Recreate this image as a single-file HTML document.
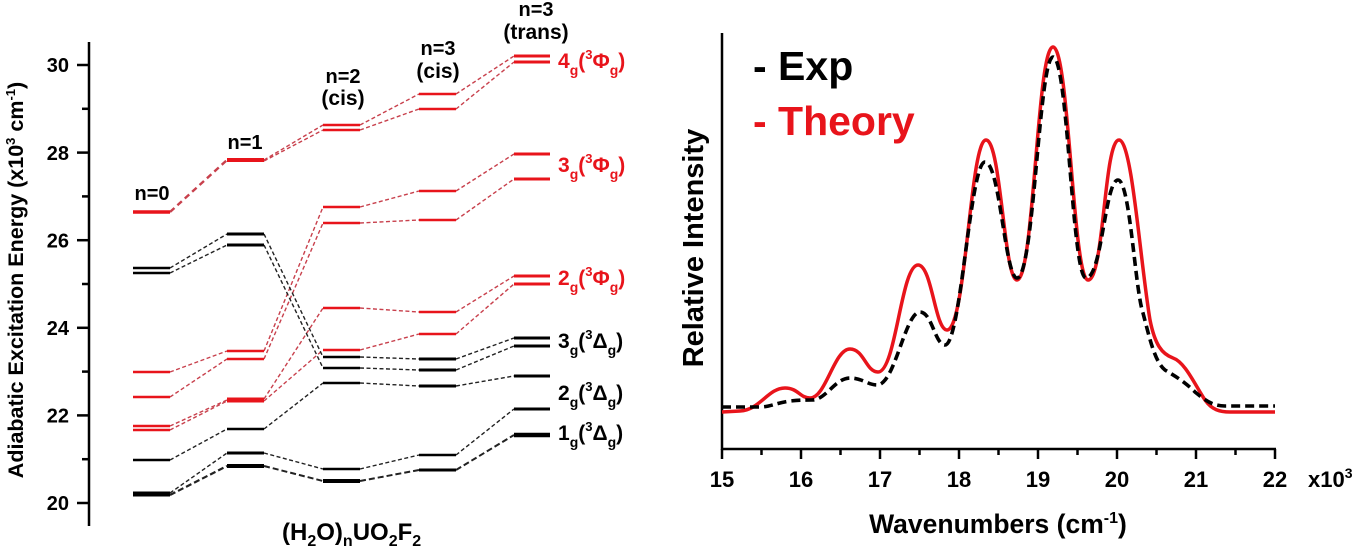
<!DOCTYPE html>
<html><head><meta charset="utf-8"><style>
html,body{margin:0;padding:0;background:#fff;}
svg{display:block;}
text{font-family:"Liberation Sans",Arial,sans-serif;font-weight:bold;}
</style></head><body>
<svg width="1370" height="551" viewBox="0 0 1370 551" xmlns="http://www.w3.org/2000/svg">
<rect width="1370" height="551" fill="#fff"/>

<!-- LEFT PANEL AXIS -->
<g stroke="#000" stroke-width="2.5" fill="none">
<line x1="89" y1="42" x2="89" y2="526"/>
<line x1="77" y1="503" x2="89" y2="503"/>
<line x1="77" y1="415.4" x2="89" y2="415.4"/>
<line x1="77" y1="327.8" x2="89" y2="327.8"/>
<line x1="77" y1="240.2" x2="89" y2="240.2"/>
<line x1="77" y1="152.6" x2="89" y2="152.6"/>
<line x1="77" y1="65" x2="89" y2="65"/>
<line x1="82" y1="459.2" x2="89" y2="459.2"/>
<line x1="82" y1="371.6" x2="89" y2="371.6"/>
<line x1="82" y1="284" x2="89" y2="284"/>
<line x1="82" y1="196.4" x2="89" y2="196.4"/>
<line x1="82" y1="108.8" x2="89" y2="108.8"/>
</g>
<g font-size="20" text-anchor="end" fill="#000">
<text x="69" y="510">20</text>
<text x="69" y="422.5">22</text>
<text x="69" y="335">24</text>
<text x="69" y="247.5">26</text>
<text x="69" y="160">28</text>
<text x="69" y="72">30</text>
</g>
<text transform="translate(23,280) rotate(-90)" text-anchor="middle" font-size="21.5" fill="#000">Adiabatic Excitation Energy (x10<tspan font-size="13" dy="-8">3</tspan><tspan dy="8"> cm</tspan><tspan font-size="13" dy="-8">-1</tspan><tspan dy="8">)</tspan></text>

<!-- column headers -->
<g font-size="20" text-anchor="middle" fill="#000">
<text x="152" y="200">n=0</text>
<text x="245" y="149">n=1</text>
<text x="343" y="83">n=2</text>
<text x="343" y="105" font-size="21">(cis)</text>
<text x="438" y="55">n=3</text>
<text x="438" y="78" font-size="21">(cis)</text>
<text x="536" y="16">n=3</text>
<text x="536" y="39" font-size="21">(trans)</text>
</g>

<!-- connectors -->
<g fill="none" stroke="#c8404c" stroke-width="1.4" stroke-dasharray="4 2.5">
<line x1="170" y1="212" x2="227" y2="160" stroke-width="2.4" stroke-dasharray="6 4"/>
<line x1="170" y1="372" x2="227" y2="351"/>
<line x1="170" y1="397" x2="227" y2="359"/>
<line x1="170" y1="426" x2="227" y2="400"/>
<line x1="170" y1="430" x2="227" y2="401"/>
<line x1="264" y1="160" x2="323" y2="125"/>
<line x1="264" y1="161" x2="323" y2="130"/>
<line x1="264" y1="351" x2="323" y2="207"/>
<line x1="264" y1="359" x2="323" y2="223"/>
<line x1="264" y1="399" x2="323" y2="308"/>
<line x1="264" y1="401" x2="323" y2="350"/>
<line x1="360" y1="125" x2="419" y2="94"/>
<line x1="360" y1="130" x2="419" y2="109"/>
<line x1="360" y1="207" x2="419" y2="191"/>
<line x1="360" y1="223" x2="419" y2="220"/>
<line x1="360" y1="308" x2="419" y2="312"/>
<line x1="360" y1="350" x2="419" y2="334"/>
<line x1="456" y1="94" x2="514" y2="56"/>
<line x1="456" y1="109" x2="514" y2="62"/>
<line x1="456" y1="191" x2="514" y2="154"/>
<line x1="456" y1="220" x2="514" y2="179"/>
<line x1="456" y1="312" x2="514" y2="276"/>
<line x1="456" y1="334" x2="514" y2="284"/>
</g>
<g fill="none" stroke="#222" stroke-width="1.4" stroke-dasharray="4 2.5">
<line x1="170" y1="268" x2="227" y2="234"/>
<line x1="170" y1="273" x2="227" y2="245"/>
<line x1="170" y1="460" x2="227" y2="429"/>
<line x1="170" y1="493" x2="227" y2="453"/>
<line x1="170" y1="495" x2="227" y2="466" stroke-width="2.2" stroke-dasharray="6 3"/>
<line x1="264" y1="234" x2="323" y2="357"/>
<line x1="264" y1="245" x2="323" y2="368"/>
<line x1="264" y1="429" x2="323" y2="383"/>
<line x1="264" y1="453" x2="323" y2="469"/>
<line x1="264" y1="466" x2="323" y2="481" stroke-width="2" stroke-dasharray="6 3"/>
<line x1="360" y1="357" x2="419" y2="359"/>
<line x1="360" y1="368" x2="419" y2="370"/>
<line x1="360" y1="383" x2="419" y2="386"/>
<line x1="360" y1="469" x2="419" y2="455"/>
<line x1="360" y1="481" x2="419" y2="470" stroke-width="2" stroke-dasharray="6 3"/>
<line x1="456" y1="359" x2="514" y2="338"/>
<line x1="456" y1="370" x2="514" y2="346"/>
<line x1="456" y1="386" x2="514" y2="376"/>
<line x1="456" y1="455" x2="514" y2="409"/>
<line x1="456" y1="470" x2="514" y2="435" stroke-width="2" stroke-dasharray="6 3"/>
</g>

<!-- levels red -->
<g stroke="#e8141b" stroke-width="2.6" fill="none">
<line x1="133" y1="212" x2="170" y2="212" stroke-width="3.6"/>
<line x1="133" y1="372" x2="170" y2="372"/>
<line x1="133" y1="397" x2="170" y2="397"/>
<line x1="133" y1="426" x2="170" y2="426"/>
<line x1="133" y1="430" x2="170" y2="430"/>
<line x1="227" y1="160" x2="264" y2="160" stroke-width="4"/>
<line x1="227" y1="351" x2="264" y2="351"/>
<line x1="227" y1="359" x2="264" y2="359"/>
<line x1="227" y1="400" x2="264" y2="400" stroke-width="5"/>
<line x1="323" y1="125" x2="360" y2="125"/>
<line x1="323" y1="130" x2="360" y2="130"/>
<line x1="323" y1="207" x2="360" y2="207"/>
<line x1="323" y1="223" x2="360" y2="223"/>
<line x1="323" y1="308" x2="360" y2="308"/>
<line x1="323" y1="350" x2="360" y2="350"/>
<line x1="419" y1="94" x2="456" y2="94"/>
<line x1="419" y1="109" x2="456" y2="109"/>
<line x1="419" y1="191" x2="456" y2="191"/>
<line x1="419" y1="220" x2="456" y2="220"/>
<line x1="419" y1="312" x2="456" y2="312"/>
<line x1="419" y1="334" x2="456" y2="334"/>
<line x1="514" y1="56" x2="550" y2="56" stroke-width="3"/>
<line x1="514" y1="62" x2="550" y2="62" stroke-width="3"/>
<line x1="514" y1="154" x2="550" y2="154" stroke-width="3"/>
<line x1="514" y1="179" x2="550" y2="179" stroke-width="3"/>
<line x1="514" y1="276" x2="550" y2="276" stroke-width="3"/>
<line x1="514" y1="284" x2="550" y2="284" stroke-width="3"/>
</g>
<!-- levels black -->
<g stroke="#000" stroke-width="2.6" fill="none">
<line x1="133" y1="268" x2="170" y2="268"/>
<line x1="133" y1="273" x2="170" y2="273"/>
<line x1="133" y1="460" x2="170" y2="460"/>
<line x1="133" y1="494" x2="170" y2="494" stroke-width="5"/>
<line x1="227" y1="234" x2="264" y2="234" stroke-width="3"/>
<line x1="227" y1="245" x2="264" y2="245" stroke-width="3"/>
<line x1="227" y1="429" x2="264" y2="429"/>
<line x1="227" y1="453" x2="264" y2="453" stroke-width="3"/>
<line x1="227" y1="466" x2="264" y2="466" stroke-width="4"/>
<line x1="323" y1="357" x2="360" y2="357"/>
<line x1="323" y1="368" x2="360" y2="368"/>
<line x1="323" y1="383" x2="360" y2="383"/>
<line x1="323" y1="469" x2="360" y2="469"/>
<line x1="323" y1="481" x2="360" y2="481" stroke-width="4"/>
<line x1="419" y1="359" x2="456" y2="359" stroke-width="3"/>
<line x1="419" y1="370" x2="456" y2="370" stroke-width="3"/>
<line x1="419" y1="386" x2="456" y2="386" stroke-width="3"/>
<line x1="419" y1="455" x2="456" y2="455"/>
<line x1="419" y1="470" x2="456" y2="470" stroke-width="3"/>
<line x1="514" y1="338" x2="550" y2="338" stroke-width="3"/>
<line x1="514" y1="346" x2="550" y2="346" stroke-width="3"/>
<line x1="514" y1="376" x2="550" y2="376" stroke-width="3"/>
<line x1="514" y1="409" x2="550" y2="409" stroke-width="3"/>
<line x1="514" y1="435" x2="550" y2="435" stroke-width="4.5"/>
</g>

<!-- state labels -->
<g font-size="21">
<text x="558" y="68" fill="#e8141b">4<tspan font-size="14" dy="7">g</tspan><tspan dy="-7">(</tspan><tspan font-size="13" dy="-9">3</tspan><tspan dy="9">Φ</tspan><tspan font-size="14" dy="7">g</tspan><tspan dy="-7">)</tspan></text>
<text x="558" y="172" fill="#e8141b">3<tspan font-size="14" dy="7">g</tspan><tspan dy="-7">(</tspan><tspan font-size="13" dy="-9">3</tspan><tspan dy="9">Φ</tspan><tspan font-size="14" dy="7">g</tspan><tspan dy="-7">)</tspan></text>
<text x="558" y="285" fill="#e8141b">2<tspan font-size="14" dy="7">g</tspan><tspan dy="-7">(</tspan><tspan font-size="13" dy="-9">3</tspan><tspan dy="9">Φ</tspan><tspan font-size="14" dy="7">g</tspan><tspan dy="-7">)</tspan></text>
<text x="558" y="348" fill="#000">3<tspan font-size="14" dy="7">g</tspan><tspan dy="-7">(</tspan><tspan font-size="13" dy="-9">3</tspan><tspan dy="9">Δ</tspan><tspan font-size="14" dy="7">g</tspan><tspan dy="-7">)</tspan></text>
<text x="558" y="400" fill="#000">2<tspan font-size="14" dy="7">g</tspan><tspan dy="-7">(</tspan><tspan font-size="13" dy="-9">3</tspan><tspan dy="9">Δ</tspan><tspan font-size="14" dy="7">g</tspan><tspan dy="-7">)</tspan></text>
<text x="558" y="440" fill="#000">1<tspan font-size="14" dy="7">g</tspan><tspan dy="-7">(</tspan><tspan font-size="13" dy="-9">3</tspan><tspan dy="9">Δ</tspan><tspan font-size="14" dy="7">g</tspan><tspan dy="-7">)</tspan></text>
</g>

<text x="282" y="540" font-size="24" fill="#000">(H<tspan font-size="16" dy="6">2</tspan><tspan dy="-6">O)</tspan><tspan font-size="16" dy="6">n</tspan><tspan dy="-6">UO</tspan><tspan font-size="16" dy="6">2</tspan><tspan dy="-6">F</tspan><tspan font-size="16" dy="6">2</tspan></text>

<!-- RIGHT PANEL -->
<g stroke="#000" stroke-width="2.5" fill="none">
<line x1="722" y1="33" x2="722" y2="450"/>
<line x1="721" y1="449" x2="1276" y2="449"/>
<line x1="722" y1="449" x2="722" y2="459"/>
<line x1="801" y1="449" x2="801" y2="459"/>
<line x1="880" y1="449" x2="880" y2="459"/>
<line x1="959" y1="449" x2="959" y2="459"/>
<line x1="1038" y1="449" x2="1038" y2="459"/>
<line x1="1117" y1="449" x2="1117" y2="459"/>
<line x1="1196" y1="449" x2="1196" y2="459"/>
<line x1="1275" y1="449" x2="1275" y2="459"/>
<line x1="761.5" y1="449" x2="761.5" y2="455"/>
<line x1="840.5" y1="449" x2="840.5" y2="455"/>
<line x1="919.5" y1="449" x2="919.5" y2="455"/>
<line x1="998.5" y1="449" x2="998.5" y2="455"/>
<line x1="1077.5" y1="449" x2="1077.5" y2="455"/>
<line x1="1156.5" y1="449" x2="1156.5" y2="455"/>
<line x1="1235.5" y1="449" x2="1235.5" y2="455"/>
</g>
<g font-size="22" text-anchor="middle" fill="#000">
<text x="722" y="487">15</text>
<text x="801" y="487">16</text>
<text x="880" y="487">17</text>
<text x="959" y="487">18</text>
<text x="1038" y="487">19</text>
<text x="1117" y="487">20</text>
<text x="1196" y="487">21</text>
<text x="1275" y="487">22</text>
</g>
<text x="1308" y="487" font-size="22" fill="#000">x10<tspan font-size="14" dy="-9">3</tspan></text>
<text x="998" y="533" font-size="26.5" text-anchor="middle" fill="#000">Wavenumbers (cm<tspan font-size="16" dy="-10">-1</tspan><tspan dy="10">)</tspan></text>
<text transform="translate(703,248) rotate(-90)" font-size="29" text-anchor="middle" fill="#000">Relative Intensity</text>

<text x="753" y="80" font-size="41" fill="#000">- Exp</text>
<text x="753" y="135" font-size="41" fill="#e8141b">- Theory</text>

<!-- theory curve -->
<path fill="none" stroke="#e8141b" stroke-width="3.5" stroke-linejoin="round"
d="M722,412 L740,411 C760,410 768,388 785,388 C798,388 800,398 810,398 C826,398 834,349 850,349 C864,349 866,372 878,372 C896,372 901,265 918,265 C932,265 935,330 947,330 C966,330 970,140 986,140 C1001,140 1004,280 1017,280 C1034,280 1037,47 1053,47 C1069,47 1073,280 1088,280 C1104,280 1104,140 1119,140 C1132,140 1140,260 1150,320 C1155,345 1162,354 1173,358 C1185,362 1195,385 1205,400 C1212,410 1220,412 1230,412 L1275,412"/>
<!-- experiment curve -->
<path fill="none" stroke="#000" stroke-width="3.6" stroke-dasharray="9 5"
d="M722,407 L760,407 C770,407 776,403 790,401 C800,400 805,400 812,400 C826,400 835,378 850,378 C862,378 868,385 877,385 C895,385 905,312 920,312 C932,312 935,345 945,345 C961,345 970,162 985,162 C1000,162 1005,278 1017,278 C1034,278 1039,57 1053,57 C1068,57 1072,278 1086,278 C1102,278 1105,180 1118,180 C1130,180 1135,290 1143,313 C1150,340 1155,362 1165,370 C1175,376 1185,382 1195,392 C1205,400 1212,406 1225,406 L1275,406"/>
</svg>
</body></html>
